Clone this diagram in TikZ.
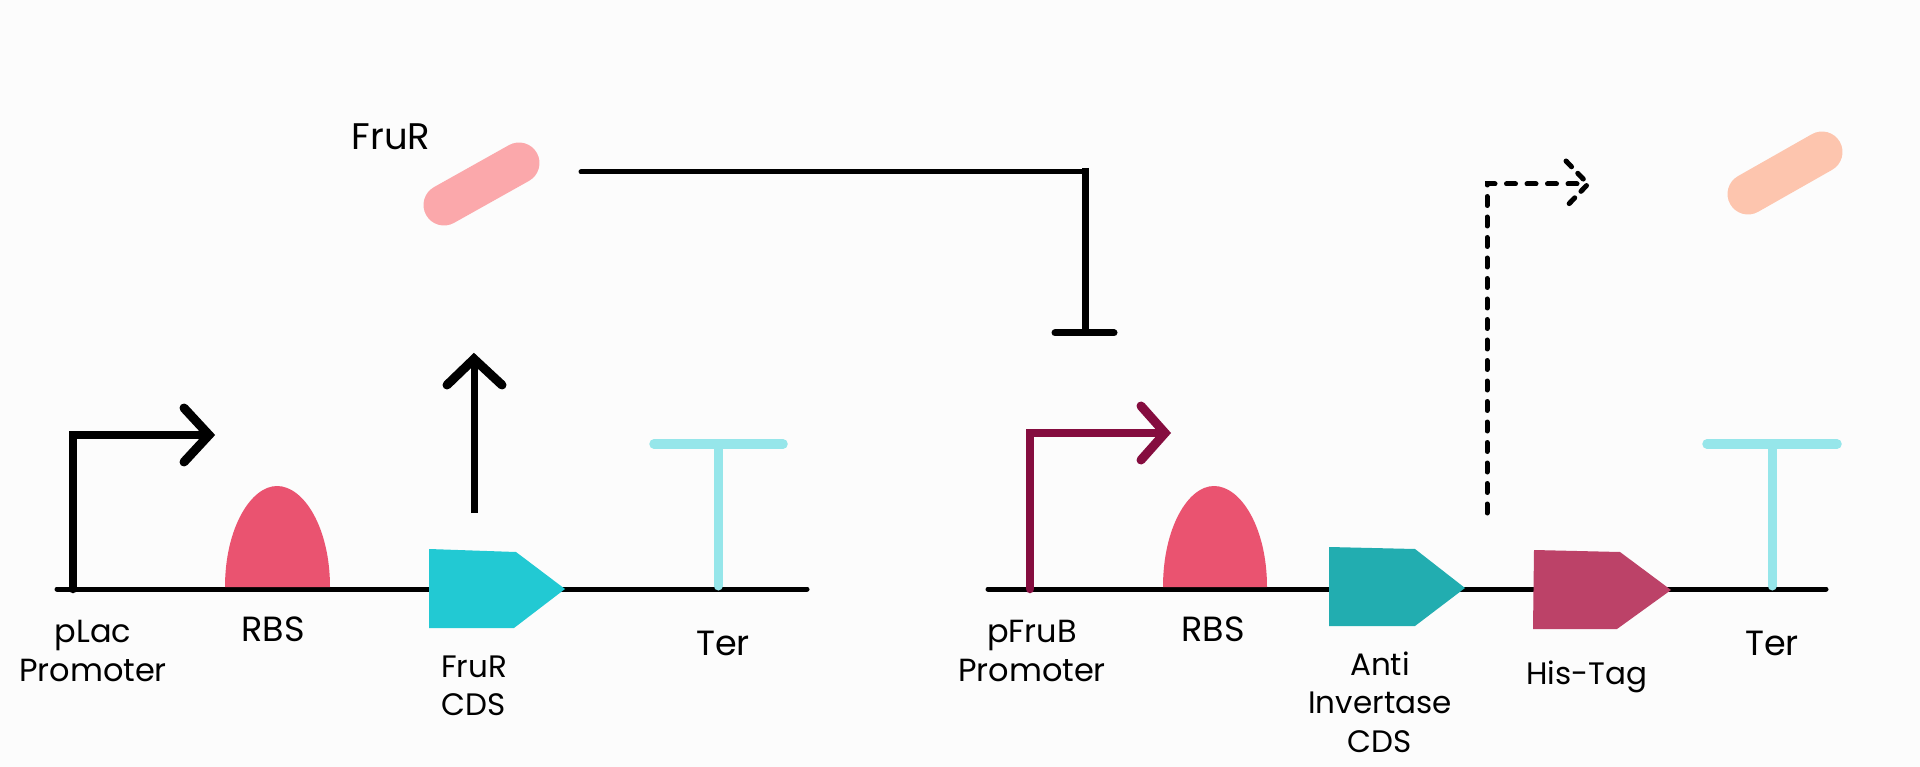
\documentclass[tikz,border=0pt]{standalone}
\usepackage{fontspec}
\setmainfont{Poppins}
\definecolor{bgc}{HTML}{FCFCFC}
\definecolor{rbsc}{HTML}{EA5370}
\definecolor{cdsa}{HTML}{22C9D3}
\definecolor{cdsb}{HTML}{22ADB0}
\definecolor{hisc}{HTML}{BC4268}
\definecolor{terc}{HTML}{96E6EA}
\definecolor{pfru}{HTML}{850D3F}
\definecolor{pinkc}{HTML}{FBA8AB}
\definecolor{peach}{HTML}{FDC5AE}
\tikzset{
  lbl/.style={align=center,inner sep=0pt,text=black},
  fa/.style={font=\fontsize{31}{38.5}\selectfont},
  fb/.style={font=\fontsize{32}{38.5}\selectfont},
  fc/.style={font=\fontsize{35}{38.5}\selectfont},
  fd/.style={font=\fontsize{37}{38.5}\selectfont},
  backbone/.style={line width=5pt,line cap=round,black},
  promoter/.style={line width=8.5pt,line join=miter,line cap=round},
  headline/.style={line width=9pt,line cap=round,line join=miter},
  terbar/.style={line width=9.5pt,line cap=round,terc},
  terstem/.style={line width=9pt,line cap=round,terc},
  capsule/.style={line width=41pt,line cap=round},
  dashline/.style={line width=5pt,line cap=round,dash pattern=on 9pt off 11.5pt},
}
\begin{document}
\begin{tikzpicture}[x=1pt,y=-1pt]
\useasboundingbox[fill=bgc] (0,0) rectangle (1920,767);
% anchors
\coordinate (b1l) at (57,589); \coordinate (b1r) at (807,589);
\coordinate (b2l) at (988,589); \coordinate (b2r) at (1826,589);
\coordinate (p1b) at (73,589); \coordinate (p1c) at (73,435); \coordinate (p1t) at (209,435);
\coordinate (p1u) at (184,408); \coordinate (p1d) at (184,462);
\coordinate (p2b) at (1030,589); \coordinate (p2c) at (1030,433); \coordinate (p2t) at (1165,433);
\coordinate (p2u) at (1141,406); \coordinate (p2d) at (1141,460);
\coordinate (upb) at (474,513); \coordinate (upt) at (474,359);
\coordinate (upl) at (447,385); \coordinate (upr) at (502,385);
\coordinate (t1b) at (718,586); \coordinate (t1t) at (718,444);
\coordinate (t1l) at (654,444); \coordinate (t1r) at (783,444);
\coordinate (t2b) at (1772,586); \coordinate (t2t) at (1772,444);
\coordinate (t2l) at (1707,444); \coordinate (t2r) at (1837,444);
\coordinate (inhs) at (581,172); \coordinate (inhc) at (1085,172);
\coordinate (inhe) at (1085,333); \coordinate (inhtop) at (1085,168);
\coordinate (inhl) at (1055,333); \coordinate (inhr) at (1114,333);
\coordinate (dshb) at (1487,513); \coordinate (dshc) at (1487,184); \coordinate (dshe) at (1585,184);
\coordinate (dshu) at (1566,161); \coordinate (dshd) at (1564,209); \coordinate (dsht) at (1588,184);
% backbones
\draw[backbone] (b1l) -- (b1r);
\draw[backbone] (b2l) -- (b2r);
% RBS
\fill[rbsc] (225,587) .. controls (225,528) and (251,486) .. (277,486) .. controls (304,486) and (330,528) .. (330,587) -- cycle;
\fill[rbsc] (1163,587) .. controls (1163,528) and (1188,486) .. (1214,486) .. controls (1241,486) and (1267,528) .. (1267,587) -- cycle;
% CDS
\fill[cdsa] (429,549) -- (516,552) -- (565,589) -- (514,628) -- (429,628) -- cycle;
\fill[cdsb] (1329,547) -- (1415,549) -- (1465,588) -- (1415,626) -- (1329,626) -- cycle;
\fill[hisc] (1534,550) -- (1620,552) -- (1671,590) -- (1617,629) -- (1533,629) -- cycle;
% promoters
\draw[promoter,black] (p1b) -- (p1c) -- (p1t);
\draw[headline,black] (p1u) -- (p1t) -- (p1d);
\draw[promoter,pfru] (p2b) -- (p2c) -- (p2t);
\draw[headline,pfru] (p2u) -- (p2t) -- (p2d);
% FruR output arrow
\draw[line width=7pt,black] (upb) -- (upt);
\draw[headline,black] (upl) -- (upt) -- (upr);
% terminators
\draw[terstem] (t1b) -- (t1t);
\draw[terbar] (t1l) -- (t1r);
\draw[terstem] (t2b) -- (t2t);
\draw[terbar] (t2l) -- (t2r);
% capsules
\draw[capsule,pinkc] (444,205) -- (519,163);
\draw[capsule,peach] (1748,194) -- (1822,152);
% repression
\draw[line width=5pt,line cap=round,black] (inhs) -- (inhc);
\draw[line width=7pt,black] (inhtop) -- (inhe);
\draw[line width=7pt,line cap=round,black] (inhl) -- (inhr);
% dashed expression arrow
\draw[dashline,black] (dshb) -- (dshc) -- (dshe);
\draw[dashline,black,dash pattern=on 8pt off 9pt] (dshu) -- (dsht) -- (dshd);
% labels
\node[lbl,fb] (l1) at (93,651) {pLac\\Promoter};
\node[lbl,fc] (l2) at (273,629) {RBS};
\node[lbl,fa] (l3) at (474,686) {FruR\\CDS};
\node[lbl,fc] (l4) at (723,643) {Ter};
\node[lbl,fb] (l5) at (1032,651) {pFruB\\Promoter};
\node[lbl,fc] (l6) at (1213,629) {RBS};
\node[lbl,fa] (l7) at (1380,702) {Anti\\Invertase\\CDS};
\node[lbl,fa] (l8) at (1587,677) {His-Tag};
\node[lbl,fc] (l9) at (1772,643) {Ter};
\node[lbl,fd] (l10) at (391,137) {FruR};
\end{tikzpicture}
\end{document}
